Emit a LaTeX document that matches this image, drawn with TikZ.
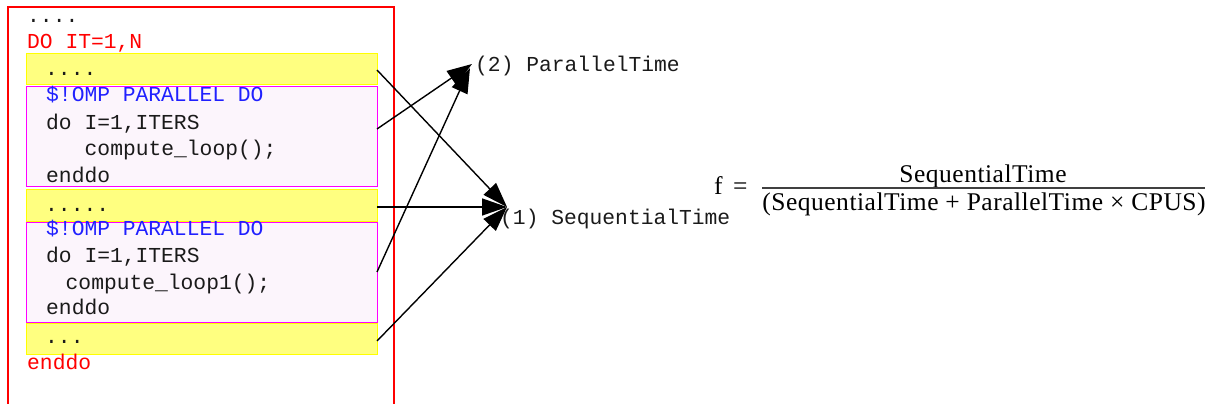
\documentclass[tikz,border=0pt]{standalone}
\usepackage{fontspec}
\setmonofont{Liberation Mono}
\newfontfamily\formfont[LetterSpace=2]{Liberation Serif}
\usetikzlibrary{arrows.meta}
\definecolor{loopred}{HTML}{FF0000}
\definecolor{seqfill}{HTML}{FFFF80}
\definecolor{seqline}{HTML}{FFFF00}
\definecolor{parline}{HTML}{FF00FF}
\definecolor{parfill}{HTML}{FCF5FC}
\definecolor{ompblue}{HTML}{2020FF}
\definecolor{codeink}{HTML}{1A1A1A}
\begin{document}
\begin{tikzpicture}[x=1pt,y=-1pt,
  code/.style={font=\ttfamily\fontsize{21.3}{26}\selectfont, anchor=base west,
    inner sep=0pt, text=codeink},
  redcode/.style={code, text=loopred},
  ompcode/.style={code, text=ompblue},
  seqbox/.style={draw=seqline, fill=seqfill, line width=1.2pt, anchor=north west,
    minimum width=351pt, minimum height=31pt, inner sep=0pt},
  parbox/.style={draw=parline, fill=parfill, line width=1.2pt, anchor=north west,
    minimum width=351pt, minimum height=100pt, inner sep=0pt},
  formula/.style={font=\formfont\fontsize{25.5}{30}\selectfont, inner sep=0pt},
  timearrow/.style={line width=1.4pt, -{Triangle[length=25pt,width=17pt]}}]
\useasboundingbox (0,0) rectangle (1211,404);

% outer iteration loop frame (runs off the bottom edge)
\draw[loopred, line width=1.2pt] (8,410) -- (8,7) -- (394,7) -- (394,410);

% sequential (yellow) and parallel (magenta) regions of the loop body
\node[seqbox] (y1) at (26,53) {};
\node[parbox] (m1) at (26,86) {};
\node[seqbox, minimum height=32pt] (y2) at (26,189) {};
\node[parbox] (m2) at (26,222) {};
\node[seqbox] (y3) at (26,323) {};

% source lines
\node[code] (l0) at (27,23) {....};
\node[redcode] (l1) at (27,49) {DO IT=1,N};
\node[code] (l2) at (45,76) {....};
\node[ompcode] (l3) at (46,102) {\$!OMP PARALLEL DO};
\node[code] (l4) at (46,129) {do I=1,ITERS};
\node[code] (l5) at (84.5,155) {compute\_loop();};
\node[code] (l6) at (46,182) {enddo};
\node[code] (l7) at (45,211) {.....};
\node[ompcode] (l8) at (46,235) {\$!OMP PARALLEL DO};
\node[code] (l9) at (46,262) {do I=1,ITERS};
\node[code] (l10) at (65.5,289) {compute\_loop1();};
\node[code] (l11) at (46,314) {enddo};
\node[code] (l12) at (45,343) {...};
\node[redcode] (l13) at (27,369) {enddo};

% time categories
\node[code] (par) at (475,72) {(2) ParallelTime};
\node[code] (seq) at (500,224) {(1) SequentialTime};
\coordinate (partip) at (472,64);
\coordinate (partipb) at (470,68);
\coordinate (seqtip) at (507,207);

% arrow origins on the right edge of each region
\coordinate (o1) at (377,70);
\coordinate (o2) at (377,129);
\coordinate (o3) at (377,207);
\coordinate (o4) at (377,272);
\coordinate (o5) at (377,341);

\draw[timearrow] (o1) -- (seqtip);
\draw[timearrow] (o2) -- (partip);
\draw[timearrow] (o3) -- (seqtip);
\draw[timearrow] (o4) -- (partipb);
\draw[timearrow] (o5) -- (seqtip);

% sequential fraction
\node[formula, anchor=base west] (fvar) at (714,194) {f};
\node[formula, anchor=base west] (feq) at (733,194) {=};
\node[formula, anchor=base] (num) at (983,182) {SequentialTime};
\node[formula, anchor=base] (den) at (984,210) {(SequentialTime + ParallelTime × CPUS)};
\coordinate (barl) at (762,188);
\coordinate (barr) at (1205,188);
\draw[black!75, line width=1.4pt] (barl) -- (barr);
\end{tikzpicture}
\end{document}
